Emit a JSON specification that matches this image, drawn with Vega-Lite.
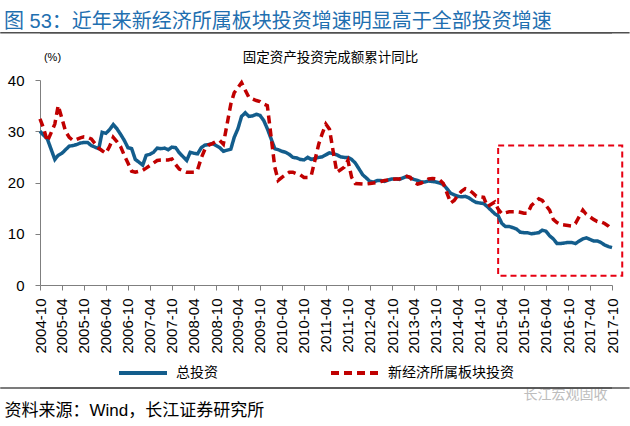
{
  "$schema": "https://vega.github.io/schema/vega-lite/v6.json",
  "width": 572,
  "height": 205,
  "autosize": {"type": "none"},
  "padding": {"left": 40, "top": 80, "right": 18, "bottom": 141},
  "background": "white",
  "config": {
    "font": "Liberation Sans, Noto Sans CJK SC",
    "view": {"stroke": null},
    "axis": {"grid": false, "domainColor": "#7f7f7f", "tickColor": "#7f7f7f", "labelColor": "#000000", "titleColor": "#000000", "titleFontWeight": "normal"}
  },
  "title": {
    "text": "图 53：近年来新经济所属板块投资增速明显高于全部投资增速",
    "anchor": "start",
    "frame": "group",
    "dx": -36,
    "offset": 0,
    "fontSize": 20,
    "fontWeight": "normal",
    "color": "#1f6fb0"
  },
  "resolve": {"axis": {"x": "independent", "y": "independent"}},
  "layer": [
    {
      "data": {"values": [
        {"x1": "2015-03-01", "x2": "2017-12-25", "y1": 1.8, "y2": 27.2}
      ]},
      "mark": {"type": "rect", "fillOpacity": 0, "stroke": "#e60012", "strokeWidth": 2, "strokeDash": [6, 4]},
      "encoding": {
        "x": {"field": "x1", "type": "temporal", "scale": {"type": "utc", "domain": [{"year": 2004, "month": 10, "date": 1, "utc": true}, {"year": 2017, "month": 10, "date": 1, "utc": true}]},
          "axis": {"orient": "top", "labels": false, "ticks": false, "domain": false, "title": "固定资产投资完成额累计同比", "titleX": 290, "titleY": -23, "titleBaseline": "middle", "titleAlign": "center", "titleFontSize": 13.5}},
        "x2": {"field": "x2"},
        "y": {"field": "y1", "type": "quantitative", "axis": null, "scale": {"domain": [0, 40], "nice": false}},
        "y2": {"field": "y2"}
      }
    },
    {
      "data": {"values": [
        {"d": "2004-10-01", "总投资": 30.0, "新经济所属板块投资": 32.4},
        {"d": "2004-11-01", "总投资": 29.2, "新经济所属板块投资": 30.5},
        {"d": "2004-12-01", "总投资": 28.5, "新经济所属板块投资": 28.0},
        {"d": "2005-02-01", "总投资": 24.5, "新经济所属板块投资": 31.4},
        {"d": "2005-03-01", "总投资": 25.3, "新经济所属板块投资": 35.0},
        {"d": "2005-04-01", "总投资": 25.7, "新经济所属板块投资": 32.5},
        {"d": "2005-05-01", "总投资": 26.4, "新经济所属板块投资": 30.0},
        {"d": "2005-06-01", "总投资": 27.1, "新经济所属板块投资": 28.8},
        {"d": "2005-07-01", "总投资": 27.2, "新经济所属板块投资": 28.2},
        {"d": "2005-08-01", "总投资": 27.4, "新经济所属板块投资": 28.4},
        {"d": "2005-09-01", "总投资": 27.7, "新经济所属板块投资": 28.7},
        {"d": "2005-10-01", "总投资": 27.8, "新经济所属板块投资": 28.9},
        {"d": "2005-11-01", "总投资": 27.8, "新经济所属板块投资": 28.8},
        {"d": "2005-12-01", "总投资": 27.2, "新经济所属板块投资": 28.5},
        {"d": "2006-02-01", "总投资": 26.6, "新经济所属板块投资": 26.7},
        {"d": "2006-03-01", "总投资": 29.8, "新经济所属板块投资": 26.2},
        {"d": "2006-04-01", "总投资": 29.6, "新经济所属板块投资": 25.7},
        {"d": "2006-05-01", "总投资": 30.3, "新经济所属板块投资": 27.0},
        {"d": "2006-06-01", "总投资": 31.3, "新经济所属板块投资": 28.8},
        {"d": "2006-07-01", "总投资": 30.5, "新经济所属板块投资": 28.0},
        {"d": "2006-08-01", "总投资": 29.4, "新经济所属板块投资": 27.0},
        {"d": "2006-09-01", "总投资": 28.2, "新经济所属板块投资": 25.3},
        {"d": "2006-10-01", "总投资": 26.8, "新经济所属板块投资": 23.8},
        {"d": "2006-11-01", "总投资": 26.6, "新经济所属板块投资": 22.2},
        {"d": "2006-12-01", "总投资": 24.5, "新经济所属板块投资": 22.0},
        {"d": "2007-02-01", "总投资": 23.4, "新经济所属板块投资": 22.4},
        {"d": "2007-03-01", "总投资": 25.3, "新经济所属板块投资": 22.8},
        {"d": "2007-04-01", "总投资": 25.5, "新经济所属板块投资": 23.3},
        {"d": "2007-05-01", "总投资": 25.9, "新经济所属板块投资": 23.8},
        {"d": "2007-06-01", "总投资": 26.7, "新经济所属板块投资": 24.3},
        {"d": "2007-07-01", "总投资": 26.6, "新经济所属板块投资": 24.4},
        {"d": "2007-08-01", "总投资": 26.7, "新经济所属板块投资": 24.4},
        {"d": "2007-09-01", "总投资": 26.4, "新经济所属板块投资": 24.4},
        {"d": "2007-10-01", "总投资": 26.9, "新经济所属板块投资": 24.6},
        {"d": "2007-11-01", "总投资": 26.8, "新经济所属板块投资": 23.5},
        {"d": "2007-12-01", "总投资": 25.8, "新经济所属板块投资": 22.6},
        {"d": "2008-02-01", "总投资": 24.3, "新经济所属板块投资": 22.0},
        {"d": "2008-03-01", "总投资": 25.9, "新经济所属板块投资": 22.0},
        {"d": "2008-04-01", "总投资": 25.7, "新经济所属板块投资": 22.0},
        {"d": "2008-05-01", "总投资": 25.6, "新经济所属板块投资": 22.5},
        {"d": "2008-06-01", "总投资": 26.8, "新经济所属板块投资": 24.8},
        {"d": "2008-07-01", "总投资": 27.3, "新经济所属板块投资": 26.5},
        {"d": "2008-08-01", "总投资": 27.4, "新经济所属板块投资": 27.3},
        {"d": "2008-09-01", "总投资": 27.6, "新经济所属板块投资": 27.6},
        {"d": "2008-10-01", "总投资": 27.2, "新经济所属板块投资": 28.0},
        {"d": "2008-11-01", "总投资": 26.8, "新经济所属板块投资": 28.2},
        {"d": "2008-12-01", "总投资": 26.1, "新经济所属板块投资": 27.5},
        {"d": "2009-02-01", "总投资": 26.5, "新经济所属板块投资": 35.3},
        {"d": "2009-03-01", "总投资": 28.8, "新经济所属板块投资": 37.5},
        {"d": "2009-04-01", "总投资": 30.5, "新经济所属板块投资": 38.5},
        {"d": "2009-05-01", "总投资": 32.9, "新经济所属板块投资": 39.5},
        {"d": "2009-06-01", "总投资": 33.6, "新经济所属板块投资": 38.0},
        {"d": "2009-07-01", "总投资": 32.9, "新经济所属板块投资": 36.6},
        {"d": "2009-08-01", "总投资": 33.0, "新经济所属板块投资": 36.3},
        {"d": "2009-09-01", "总投资": 33.3, "新经济所属板块投资": 36.0},
        {"d": "2009-10-01", "总投资": 33.1, "新经济所属板块投资": 35.8},
        {"d": "2009-11-01", "总投资": 32.1, "新经济所属板块投资": 35.3},
        {"d": "2009-12-01", "总投资": 30.5, "新经济所属板块投资": 35.0},
        {"d": "2010-02-01", "总投资": 26.6, "新经济所属板块投资": 23.0},
        {"d": "2010-03-01", "总投资": 26.4, "新经济所属板块投资": 20.4},
        {"d": "2010-04-01", "总投资": 26.1, "新经济所属板块投资": 21.0},
        {"d": "2010-05-01", "总投资": 25.9, "新经济所属板块投资": 21.5},
        {"d": "2010-06-01", "总投资": 25.5, "新经济所属板块投资": 22.0},
        {"d": "2010-07-01", "总投资": 24.9, "新经济所属板块投资": 22.0},
        {"d": "2010-08-01", "总投资": 24.8, "新经济所属板块投资": 21.7},
        {"d": "2010-09-01", "总投资": 24.5, "新经济所属板块投资": 21.5},
        {"d": "2010-10-01", "总投资": 24.4, "新经济所属板块投资": 21.0},
        {"d": "2010-11-01", "总投资": 24.9, "新经济所属板块投资": 21.0},
        {"d": "2010-12-01", "总投资": 24.5, "新经济所属板块投资": 21.4},
        {"d": "2011-02-01", "总投资": 24.9, "新经济所属板块投资": 27.5},
        {"d": "2011-03-01", "总投资": 25.0, "新经济所属板块投资": 29.5},
        {"d": "2011-04-01", "总投资": 25.4, "新经济所属板块投资": 31.4},
        {"d": "2011-05-01", "总投资": 25.8, "新经济所属板块投资": 30.4},
        {"d": "2011-06-01", "总投资": 25.6, "新经济所属板块投资": 26.0},
        {"d": "2011-07-01", "总投资": 25.4, "新经济所属板块投资": 22.0},
        {"d": "2011-08-01", "总投资": 25.0, "新经济所属板块投资": 22.5},
        {"d": "2011-09-01", "总投资": 24.9, "新经济所属板块投资": 23.0},
        {"d": "2011-10-01", "总投资": 24.9, "新经济所属板块投资": 24.3},
        {"d": "2011-11-01", "总投资": 24.5, "新经济所属板块投资": 21.0},
        {"d": "2011-12-01", "总投资": 23.8, "新经济所属板块投资": 19.8},
        {"d": "2012-02-01", "总投资": 21.5, "新经济所属板块投资": 19.7},
        {"d": "2012-03-01", "总投资": 20.9, "新经济所属板块投资": 19.7},
        {"d": "2012-04-01", "总投资": 20.2, "新经济所属板块投资": 19.8},
        {"d": "2012-05-01", "总投资": 20.1, "新经济所属板块投资": 19.9},
        {"d": "2012-06-01", "总投资": 20.4, "新经济所属板块投资": 20.0},
        {"d": "2012-07-01", "总投资": 20.4, "新经济所属板块投资": 20.2},
        {"d": "2012-08-01", "总投资": 20.2, "新经济所属板块投资": 20.4},
        {"d": "2012-09-01", "总投资": 20.5, "新经济所属板块投资": 20.5},
        {"d": "2012-10-01", "总投资": 20.7, "新经济所属板块投资": 20.6},
        {"d": "2012-11-01", "总投资": 20.7, "新经济所属板块投资": 20.7},
        {"d": "2012-12-01", "总投资": 20.6, "新经济所属板块投资": 20.7},
        {"d": "2013-02-01", "总投资": 21.2, "新经济所属板块投资": 21.2},
        {"d": "2013-03-01", "总投资": 20.9, "新经济所属板块投资": 21.0},
        {"d": "2013-04-01", "总投资": 20.6, "新经济所属板块投资": 20.0},
        {"d": "2013-05-01", "总投资": 20.4, "新经济所属板块投资": 19.7},
        {"d": "2013-06-01", "总投资": 20.1, "新经济所属板块投资": 19.9},
        {"d": "2013-07-01", "总投资": 20.1, "新经济所属板块投资": 20.3},
        {"d": "2013-08-01", "总投资": 20.3, "新经济所属板块投资": 20.7},
        {"d": "2013-09-01", "总投资": 20.2, "新经济所属板块投资": 20.8},
        {"d": "2013-10-01", "总投资": 20.1, "新经济所属板块投资": 20.7},
        {"d": "2013-11-01", "总投资": 19.9, "新经济所属板块投资": 20.5},
        {"d": "2013-12-01", "总投资": 19.6, "新经济所属板块投资": 19.8},
        {"d": "2014-02-01", "总投资": 17.9, "新经济所属板块投资": 16.0},
        {"d": "2014-03-01", "总投资": 17.6, "新经济所属板块投资": 16.5},
        {"d": "2014-04-01", "总投资": 17.3, "新经济所属板块投资": 17.5},
        {"d": "2014-05-01", "总投资": 17.2, "新经济所属板块投资": 18.3},
        {"d": "2014-06-01", "总投资": 17.3, "新经济所属板块投资": 18.8},
        {"d": "2014-07-01", "总投资": 17.0, "新经济所属板块投资": 18.6},
        {"d": "2014-08-01", "总投资": 16.5, "新经济所属板块投资": 18.0},
        {"d": "2014-09-01", "总投资": 16.1, "新经济所属板块投资": 17.3},
        {"d": "2014-10-01", "总投资": 16.0, "新经济所属板块投资": 17.2},
        {"d": "2014-11-01", "总投资": 15.9, "新经济所属板块投资": 17.1},
        {"d": "2014-12-01", "总投资": 15.3, "新经济所属板块投资": 15.3},
        {"d": "2015-02-01", "总投资": 13.9, "新经济所属板块投资": 16.2},
        {"d": "2015-03-01", "总投资": 13.5, "新经济所属板块投资": 14.8},
        {"d": "2015-04-01", "总投资": 12.0, "新经济所属板块投资": 13.9},
        {"d": "2015-05-01", "总投资": 11.4, "新经济所属板块投资": 14.1},
        {"d": "2015-06-01", "总投资": 11.4, "新经济所属板块投资": 14.3},
        {"d": "2015-07-01", "总投资": 11.2, "新经济所属板块投资": 14.3},
        {"d": "2015-08-01", "总投资": 10.9, "新经济所属板块投资": 14.3},
        {"d": "2015-09-01", "总投资": 10.3, "新经济所属板块投资": 14.2},
        {"d": "2015-10-01", "总投资": 10.2, "新经济所属板块投资": 14.0},
        {"d": "2015-11-01", "总投资": 10.2, "新经济所属板块投资": 14.0},
        {"d": "2015-12-01", "总投资": 10.0, "新经济所属板块投资": 15.5},
        {"d": "2016-02-01", "总投资": 10.2, "新经济所属板块投资": 16.8},
        {"d": "2016-03-01", "总投资": 10.7, "新经济所属板块投资": 16.5},
        {"d": "2016-04-01", "总投资": 10.5, "新经济所属板块投资": 15.5},
        {"d": "2016-05-01", "总投资": 9.6, "新经济所属板块投资": 14.6},
        {"d": "2016-06-01", "总投资": 9.0, "新经济所属板块投资": 12.8},
        {"d": "2016-07-01", "总投资": 8.1, "新经济所属板块投资": 12.2},
        {"d": "2016-08-01", "总投资": 8.1, "新经济所属板块投资": 11.8},
        {"d": "2016-09-01", "总投资": 8.2, "新经济所属板块投资": 11.7},
        {"d": "2016-10-01", "总投资": 8.3, "新经济所属板块投资": 11.6},
        {"d": "2016-11-01", "总投资": 8.3, "新经济所属板块投资": 11.5},
        {"d": "2016-12-01", "总投资": 8.1, "新经济所属板块投资": 12.0},
        {"d": "2017-02-01", "总投资": 9.0, "新经济所属板块投资": 14.6},
        {"d": "2017-03-01", "总投资": 9.2, "新经济所属板块投资": 13.8},
        {"d": "2017-04-01", "总投资": 8.9, "新经济所属板块投资": 13.3},
        {"d": "2017-05-01", "总投资": 8.6, "新经济所属板块投资": 12.8},
        {"d": "2017-06-01", "总投资": 8.6, "新经济所属板块投资": 12.4},
        {"d": "2017-07-01", "总投资": 8.3, "新经济所属板块投资": 12.3},
        {"d": "2017-08-01", "总投资": 7.8, "新经济所属板块投资": 12.0},
        {"d": "2017-09-01", "总投资": 7.5, "新经济所属板块投资": 11.5},
        {"d": "2017-10-01", "总投资": 7.3, "新经济所属板块投资": 10.8}
      ]},
      "transform": [{"fold": ["总投资", "新经济所属板块投资"], "as": ["s", "v"]}],
      "mark": {"type": "line", "strokeWidth": 3.5, "strokeCap": "butt"},
      "encoding": {
        "x": {
          "field": "d", "type": "temporal",
          "scale": {"type": "utc", "domain": [{"year": 2004, "month": 10, "date": 1, "utc": true}, {"year": 2017, "month": 10, "date": 1, "utc": true}]},
          "axis": {
            "orient": "bottom",
            "format": "%Y-%m",
            "labelAngle": 270,
            "labelFontSize": 15,
            "labelPadding": 8,
            "tickSize": 5,
            "labelOverlap": false,
            "values": [
              {"year": 2004, "month": 10, "date": 1, "utc": true},
              {"year": 2005, "month": 4, "date": 1, "utc": true},
              {"year": 2005, "month": 10, "date": 1, "utc": true},
              {"year": 2006, "month": 4, "date": 1, "utc": true},
              {"year": 2006, "month": 10, "date": 1, "utc": true},
              {"year": 2007, "month": 4, "date": 1, "utc": true},
              {"year": 2007, "month": 10, "date": 1, "utc": true},
              {"year": 2008, "month": 4, "date": 1, "utc": true},
              {"year": 2008, "month": 10, "date": 1, "utc": true},
              {"year": 2009, "month": 4, "date": 1, "utc": true},
              {"year": 2009, "month": 10, "date": 1, "utc": true},
              {"year": 2010, "month": 4, "date": 1, "utc": true},
              {"year": 2010, "month": 10, "date": 1, "utc": true},
              {"year": 2011, "month": 4, "date": 1, "utc": true},
              {"year": 2011, "month": 10, "date": 1, "utc": true},
              {"year": 2012, "month": 4, "date": 1, "utc": true},
              {"year": 2012, "month": 10, "date": 1, "utc": true},
              {"year": 2013, "month": 4, "date": 1, "utc": true},
              {"year": 2013, "month": 10, "date": 1, "utc": true},
              {"year": 2014, "month": 4, "date": 1, "utc": true},
              {"year": 2014, "month": 10, "date": 1, "utc": true},
              {"year": 2015, "month": 4, "date": 1, "utc": true},
              {"year": 2015, "month": 10, "date": 1, "utc": true},
              {"year": 2016, "month": 4, "date": 1, "utc": true},
              {"year": 2016, "month": 10, "date": 1, "utc": true},
              {"year": 2017, "month": 4, "date": 1, "utc": true},
              {"year": 2017, "month": 10, "date": 1, "utc": true}
            ],
            "title": "资料来源：Wind，长江证券研究所",
            "titleX": -36,
            "titleY": 125,
            "titleAlign": "left",
            "titleBaseline": "middle",
            "titleFontSize": 17
          }
        },
        "y": {
          "field": "v", "type": "quantitative",
          "scale": {"domain": [0, 40], "nice": false},
          "axis": {"values": [0, 10, 20, 30, 40], "labelFontSize": 15, "labelPadding": 11, "tickSize": 5, "title": "(%)", "titleAngle": 0, "titleX": 12, "titleY": -23, "titleAlign": "center", "titleBaseline": "middle", "titleFontSize": 11}
        },
        "color": {
          "field": "s", "type": "nominal",
          "scale": {"domain": ["总投资", "新经济所属板块投资"], "range": ["#135d8c", "#c00000"]},
          "legend": {"orient": "none", "legendX": 77, "legendY": 267, "direction": "horizontal", "title": null, "symbolType": "stroke", "symbolSize": 2304, "symbolStrokeWidth": 4, "labelFontSize": 14, "labelOffset": 7, "columnPadding": 105}
        },
        "strokeDash": {
          "field": "s", "type": "nominal",
          "scale": {"domain": ["总投资", "新经济所属板块投资"], "range": [[1, 0], [8, 5]]},
          "legend": {"orient": "none", "legendX": 77, "legendY": 267, "direction": "horizontal", "title": null, "symbolType": "stroke", "symbolSize": 2304, "symbolStrokeWidth": 4, "labelFontSize": 14, "labelOffset": 7, "columnPadding": 105}
        }
      }
    },
    {
      "data": {"values": [{"x": "2016-09-10", "y": -21.5, "t": "长江宏观固收"}]},
      "mark": {"type": "text", "color": "#bdbdbd", "fontSize": 14, "align": "center", "baseline": "middle"},
      "encoding": {
        "x": {"field": "x", "type": "temporal", "axis": null, "scale": {"type": "utc", "domain": [{"year": 2004, "month": 10, "date": 1, "utc": true}, {"year": 2017, "month": 10, "date": 1, "utc": true}]}},
        "y": {"field": "y", "type": "quantitative", "axis": null, "scale": {"domain": [0, 40], "nice": false}},
        "text": {"field": "t"}
      }
    },
    {
      "data": {"values": [{"xa": "2004-10-01", "xb": "2017-10-01", "ya": 49.2}]},
      "mark": {"type": "rule", "stroke": "#505050", "strokeWidth": 1.5},
      "encoding": {
        "x": {"field": "xa", "type": "temporal", "axis": null, "scale": {"type": "utc", "domain": [{"year": 2004, "month": 10, "date": 1, "utc": true}, {"year": 2017, "month": 10, "date": 1, "utc": true}]}},
        "x2": {"field": "xb"},
        "y": {"field": "ya", "type": "quantitative", "axis": null, "scale": {"domain": [0, 40], "nice": false}}
      }
    },
    {
      "data": {"values": [{"xc": "2004-10-01", "xd": "2017-10-01", "yc": -20.1}]},
      "mark": {"type": "rule", "stroke": "#505050", "strokeWidth": 1.5},
      "encoding": {
        "x": {"field": "xc", "type": "temporal", "axis": null, "scale": {"type": "utc", "domain": [{"year": 2004, "month": 10, "date": 1, "utc": true}, {"year": 2017, "month": 10, "date": 1, "utc": true}]}},
        "x2": {"field": "xd"},
        "y": {"field": "yc", "type": "quantitative", "axis": null, "scale": {"domain": [0, 40], "nice": false}}
      }
    },
    {
      "data": {"values": [{"xe": "2003-11-06", "xf": "2018-02-24", "ye": 49.2}]},
      "mark": {"type": "rule", "stroke": "#505050", "strokeWidth": 1.5},
      "encoding": {
        "x": {"field": "xe", "type": "temporal", "axis": null, "scale": {"type": "utc", "domain": [{"year": 2004, "month": 10, "date": 1, "utc": true}, {"year": 2017, "month": 10, "date": 1, "utc": true}]}},
        "x2": {"field": "xf"},
        "y": {"field": "ye", "type": "quantitative", "axis": null, "scale": {"domain": [0, 40], "nice": false}}
      }
    },
    {
      "data": {"values": [{"xg": "2003-11-06", "xh": "2018-02-24", "yg": -20.1}]},
      "mark": {"type": "rule", "stroke": "#505050", "strokeWidth": 1.5},
      "encoding": {
        "x": {"field": "xg", "type": "temporal", "axis": null, "scale": {"type": "utc", "domain": [{"year": 2004, "month": 10, "date": 1, "utc": true}, {"year": 2017, "month": 10, "date": 1, "utc": true}]}},
        "x2": {"field": "xh"},
        "y": {"field": "yg", "type": "quantitative", "axis": null, "scale": {"domain": [0, 40], "nice": false}}
      }
    }
  ]
}
